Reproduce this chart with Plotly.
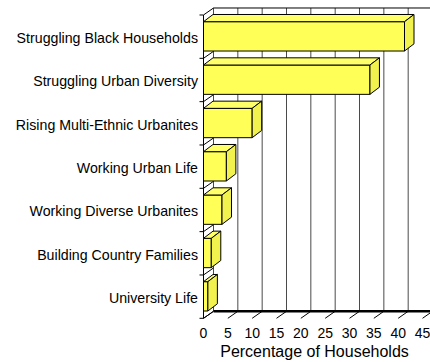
import plotly.graph_objects as go

# ---- data -------------------------------------------------------------
categories = [
    "University Life",
    "Building Country Families",
    "Working Diverse Urbanites",
    "Working Urban Life",
    "Rising Multi-Ethnic Urbanites",
    "Struggling Urban Diversity",
    "Struggling Black Households",
]
percentages = [0.9, 1.6, 3.8, 4.7, 10.0, 34.2, 41.3]
x_ticks = [0, 5, 10, 15, 20, 25, 30, 35, 40, 45]
x_title = "Percentage of Households"

# ---- geometry (pixels) ------------------------------------------------
W, H = 430, 362
PLOT_L, PLOT_R, PLOT_T, PLOT_B = 199, 430, 5, 320
PX_PER_X = 4.867          # pixels per percentage point
PX_PER_BAND = 43.33       # pixels per category band
ZERO_X_PX = 203.5
ZERO_Y_PX = 318.3

x_range = [(PLOT_L - ZERO_X_PX) / PX_PER_X, (PLOT_R - ZERO_X_PX) / PX_PER_X]
y_range = [(ZERO_Y_PX - PLOT_B) / PX_PER_BAND, (ZERO_Y_PX - PLOT_T) / PX_PER_BAND]

# oblique depth of the walls and of the bars
DX = 10.0 / PX_PER_X
DY = 7.0 / PX_PER_BAND
BDX = 9.5 / PX_PER_X
BDY = 7.2 / PX_PER_BAND

# front face of each bar inside its band
BAR_LO = 7.3 / PX_PER_BAND
BAR_HI = 1 - 6.7 / PX_PER_BAND

n = len(categories)
FONT = "Liberation Sans, Arial, sans-serif"
FRONT = "#FFFF58"
TOP = "#FFFF6A"
SIDE = "#F2F24E"
GRID = "#4a4a4a"

fig = go.Figure()
shapes = []


def seg(x0, y0, x1, y1, color="black", width=1):
    shapes.append(dict(type="line", xref="x", yref="y", x0=x0, y0=y0, x1=x1, y1=y1,
                       line=dict(color=color, width=width), layer="below"))


# back wall gridlines and top edge
for v in x_ticks:
    seg(v + DX, DY, v + DX, n + DY, GRID, 1)
seg(DX, n + DY, x_range[1], n + DY, "black", 1)

# floor: back edge and oblique tick lines
seg(DX, DY, x_range[1], DY, "black", 2.5)
for v in x_ticks:
    seg(v, 0, v + DX, DY, "black", 1)

# left wall: front axis line, category separators
seg(0, 0, 0, n, "black", 1)
tick_len = 4.0 / PX_PER_X
for k in range(n + 1):
    seg(-tick_len, k, 0, k, "black", 1)
    seg(0, k, DX, k + DY, "black", 1)

# front faces of the bars
fig.add_trace(go.Bar(
    x=percentages,
    y=[i + (BAR_LO + BAR_HI) / 2 for i in range(n)],
    width=BAR_HI - BAR_LO,
    base=0,
    orientation="h",
    marker=dict(color=FRONT, line=dict(color="black", width=1)),
    hoverinfo="skip",
    showlegend=False,
))

# top and side faces of the bars
for i, v in enumerate(percentages):
    lo, hi = i + BAR_LO, i + BAR_HI
    fig.add_trace(go.Scatter(
        x=[0, v, v + BDX, BDX, 0],
        y=[hi, hi, hi + BDY, hi + BDY, hi],
        mode="lines", fill="toself", fillcolor=TOP,
        line=dict(color="black", width=1),
        hoverinfo="skip", showlegend=False,
    ))
    fig.add_trace(go.Scatter(
        x=[v, v + BDX, v + BDX, v, v],
        y=[lo, lo + BDY, hi + BDY, hi, lo],
        mode="lines", fill="toself", fillcolor=SIDE,
        line=dict(color="black", width=1),
        hoverinfo="skip", showlegend=False,
    ))

fig.update_layout(
    width=W, height=H,
    margin=dict(l=PLOT_L, r=W - PLOT_R, t=PLOT_T, b=H - PLOT_B),
    paper_bgcolor="white", plot_bgcolor="white",
    shapes=shapes,
    showlegend=False,
    font=dict(family=FONT, color="black"),
    xaxis=dict(
        range=x_range, fixedrange=True,
        tickmode="array", tickvals=x_ticks, ticktext=[str(t) for t in x_ticks],
        ticks="", showgrid=False, zeroline=False, showline=False,
        ticklabelstandoff=3, ticklabeloverflow="allow",
        tickfont=dict(size=14, family=FONT, color="black"),
        title=dict(text=x_title, font=dict(size=16, family=FONT, color="black"), standoff=5),
    ),
    yaxis=dict(
        range=y_range, fixedrange=True,
        tickmode="array",
        tickvals=[i + 0.5 - 0.035 for i in range(n)],
        ticktext=categories,
        ticks="", showgrid=False, zeroline=False, showline=False,
        tickfont=dict(size=14.2, family=FONT, color="black"),
    ),
)

fig.write_html("out.html")
